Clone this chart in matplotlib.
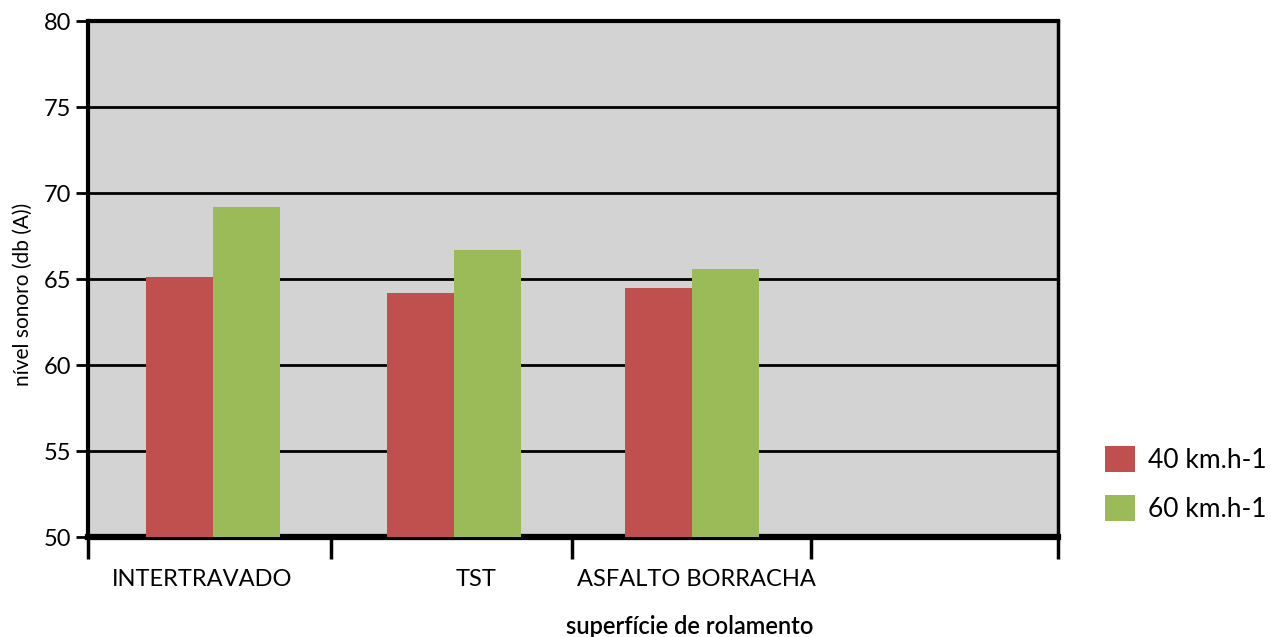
import numpy as np
import matplotlib
matplotlib.use("Agg")
from matplotlib import pyplot as plt
from matplotlib.patches import Patch

plt.rcParams["font.family"] = ["Lato", "DejaVu Sans"]

surfaces = ["INTERTRAVADO", "TST", "ASFALTO BORRACHA"]
series_names = ["40 km.h-1", "60 km.h-1"]
level_40 = [65.14, 64.16, 64.45]
level_60 = [69.18, 66.67, 65.56]
y_ticks = [50, 55, 60, 65, 70, 75, 80]

RED = "#c0504d"
GREEN = "#9bbb59"
N_SLOTS = 4
BAR_W = 0.276

fig = plt.figure(figsize=(12.71, 6.37), dpi=100)
ax = fig.add_axes([88 / 1271, 100 / 637, 970 / 1271, 516 / 637])
ax.set_facecolor("#d3d3d3")

centers = np.arange(len(surfaces)) + 0.5
bar_pos = centers + np.array([0.015, 0.01, -0.01])
ax.bar(bar_pos - BAR_W / 2, level_40, width=BAR_W, color=RED, zorder=3)
ax.bar(bar_pos + BAR_W / 2, level_60, width=BAR_W, color=GREEN, zorder=3)

ax.set_xlim(0, N_SLOTS)
ax.set_ylim(50, 80)
ax.set_yticks(y_ticks)
ax.yaxis.grid(True, color="black", linewidth=2, zorder=1)
ax.set_axisbelow(True)
ax.tick_params(axis="y", length=9, width=2, labelsize=17, pad=3)

# slot boundaries as long tick marks, names on offset minor ticks
ax.set_xticks([0, 1, 1.995, 2.98, 4])
ax.set_xticklabels([])
ax.tick_params(axis="x", which="major", length=16, width=2.5)
label_pos = centers + np.array([-0.03, 0.1, 0.01])
ax.set_xticks(label_pos, minor=True)
ax.set_xticklabels(surfaces, minor=True)
ax.tick_params(axis="x", which="minor", length=0, labelsize=17, pad=23)

for side, lw in [("left", 3), ("top", 3), ("right", 2.5), ("bottom", 4.5)]:
    ax.spines[side].set_linewidth(lw)
    ax.spines[side].set_color("black")

fig.text(23 / 1271, 1 - 294 / 637, "nível sonoro (db (A))", rotation=90,
         ha="center", va="center", fontsize=15)
fig.text(690 / 1271, 1 - 627 / 637, "superfície de rolamento",
         ha="center", va="center", fontsize=17, fontweight="semibold")

handles = [Patch(facecolor=RED), Patch(facecolor=GREEN)]
fig.legend(handles, series_names, loc="center left",
           bbox_to_anchor=(1105 / 1271, 1 - 484 / 637), frameon=False,
           fontsize=19, handlelength=1.14, handleheight=1.14,
           handletextpad=0.49, labelspacing=0.85,
           borderpad=0, borderaxespad=0)

fig.savefig("out.png", dpi=100)
